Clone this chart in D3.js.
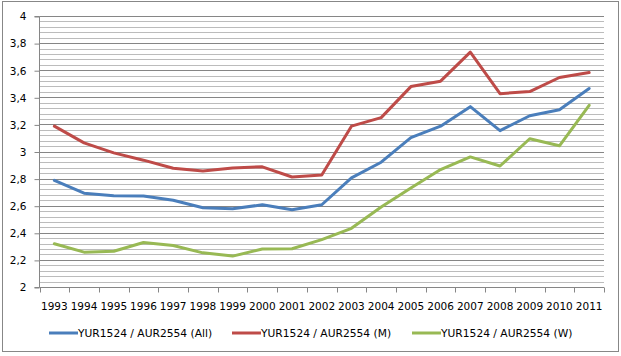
<!DOCTYPE html>
<html>
<head>
<meta charset="utf-8">
<script src="https://cdn.jsdelivr.net/npm/d3@7"></script>
<style>
  html, body { margin: 0; padding: 0; background: #fff; }
  svg { display: block; }
  text { font-family: "DejaVu Sans", Verdana, sans-serif; fill: #000; }
</style>
</head>
<body>
<svg id="chart" width="621" height="356"></svg>
<script>
const years = ["1993","1994","1995","1996","1997","1998","1999","2000","2001","2002","2003","2004","2005","2006","2007","2008","2009","2010","2011"];
const allValues = [2.787, 2.692, 2.674, 2.672, 2.64, 2.585, 2.577, 2.607, 2.57, 2.607, 2.805, 2.921, 3.102, 3.187, 3.331, 3.154, 3.264, 3.308, 3.465];
const menValues = [3.187, 3.064, 2.99, 2.936, 2.876, 2.856, 2.879, 2.887, 2.812, 2.826, 3.187, 3.25, 3.479, 3.519, 3.733, 3.427, 3.442, 3.546, 3.583];
const womenValues = [2.319, 2.257, 2.264, 2.328, 2.306, 2.252, 2.228, 2.28, 2.282, 2.35, 2.433, 2.59, 2.73, 2.867, 2.96, 2.893, 3.094, 3.042, 3.341];
const seriesNames = ["YUR1524 / AUR2554 (All)", "YUR1524 / AUR2554 (M)", "YUR1524 / AUR2554 (W)"];
const seriesColors = ["#4a7ebb", "#be4b48", "#98b954"];
const yTicks = [2, 2.2, 2.4, 2.6, 2.8, 3, 3.2, 3.4, 3.6, 3.8, 4];
const minorTicks = d3.range(0, 51).map(i => 2 + i * 0.04);

const series = [allValues, menValues, womenValues].map((vals, i) => ({
  name: seriesNames[i], color: seriesColors[i], values: vals
}));

const svg = d3.select("#chart");
const plotLeft = 39.5, plotRight = 604, plotTop = 16, plotBottom = 287;

// outer border
svg.append("rect").attr("x", 2.5).attr("y", 1.5).attr("width", 616).attr("height", 350)
  .attr("fill", "#fff").attr("stroke", "#878787").attr("stroke-width", 1);

const x = d3.scaleBand().domain(years).range([plotLeft, plotRight]);
const y = d3.scaleLinear().domain([2, 4]).range([plotBottom, plotTop]);

// minor gridlines
svg.append("g").selectAll("line").data(minorTicks.filter(v => !yTicks.some(t => Math.abs(t - v) < 1e-6)))
  .join("line")
  .attr("x1", plotLeft).attr("x2", plotRight)
  .attr("y1", d => Math.round(y(d)) + 0.5).attr("y2", d => Math.round(y(d)) + 0.5)
  .attr("stroke", "#bcbcbc").attr("stroke-width", 1);

// major gridlines
svg.append("g").selectAll("line").data(yTicks.slice(1))
  .join("line")
  .attr("x1", plotLeft).attr("x2", plotRight)
  .attr("y1", d => Math.round(y(d)) + 0.5).attr("y2", d => Math.round(y(d)) + 0.5)
  .attr("stroke", "#868686").attr("stroke-width", 1);

// y axis
const yAxis = d3.axisLeft(y).tickValues(yTicks).tickSize(5).tickPadding(8)
  .tickFormat(d => d3.format("")(+d.toFixed(1)).replace(".", ","));
const gy = svg.append("g").attr("transform", `translate(${plotLeft},0.5)`).call(yAxis);
gy.select(".domain").attr("stroke", "#868686").attr("d", `M-5,${y(2)}H0V${y(4)}H-5`);
gy.selectAll(".tick line").attr("stroke", "#868686");
gy.selectAll(".tick text").style("font-size", "10.5px").style("font-family", "'DejaVu Sans', Verdana, sans-serif").attr("fill", "#000");

// x axis
const gx = svg.append("g").attr("transform", `translate(0,${Math.round(plotBottom) + 0.5})`);
gx.append("line").attr("x1", plotLeft).attr("x2", plotRight).attr("stroke", "#868686");
const tickPos = years.map(yr => x(yr)).concat([plotRight]);
gx.selectAll("line.tk").data(tickPos).join("line").attr("class", "tk")
  .attr("x1", d => Math.round(d) + 0.5).attr("x2", d => Math.round(d) + 0.5)
  .attr("y1", 0).attr("y2", 5).attr("stroke", "#868686");
gx.selectAll("text").data(years).join("text")
  .attr("x", d => x(d) + x.bandwidth() / 2)
  .attr("y", 22)
  .attr("text-anchor", "middle")
  .style("font-size", "10.5px")
  .text(d => d);

// lines
const line = d3.line().x((d, i) => x(years[i]) + x.bandwidth() / 2).y(d => y(d));
svg.append("g").selectAll("path").data(series).join("path")
  .attr("d", d => line(d.values))
  .attr("fill", "none")
  .attr("stroke", d => d.color)
  .attr("stroke-width", 3)
  .attr("stroke-linejoin", "round")
  .attr("stroke-linecap", "round");

// legend
const legendX = [49, 232, 412];
const lg = svg.append("g").selectAll("g").data(series).join("g")
  .attr("transform", (d, i) => `translate(${legendX[i]},333)`);
lg.append("line").attr("x1", 0).attr("x2", 29).attr("y1", 0).attr("y2", 0)
  .attr("stroke", d => d.color).attr("stroke-width", 3);
lg.append("text").attr("x", 29).attr("y", 4).style("font-size", "10.7px").text(d => d.name);
</script>
</body>
</html>
